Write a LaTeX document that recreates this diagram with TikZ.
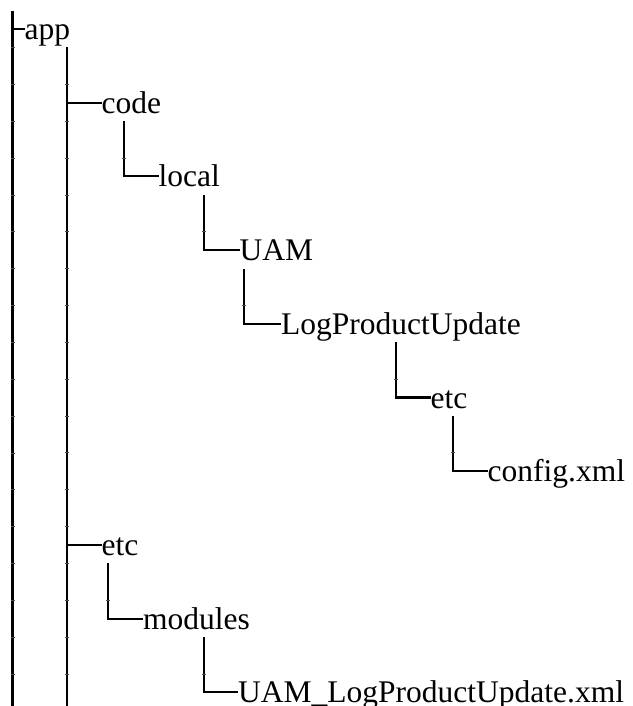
\documentclass[tikz,border=0pt]{standalone}
\usepackage{fontspec}
\setmainfont{Liberation Serif}
\begin{document}
\begin{tikzpicture}[x=1pt,y=-1pt,
  lbl/.style={anchor=west,inner sep=0pt,text height=26pt,text depth=5pt,font=\fontsize{31.5}{36}\selectfont},
  tree/.style={line width=2.1pt,black},
  tk/.style={line width=0.6pt,black!70}]
\useasboundingbox (0,0) rectangle (632,706);
% rows: y = 29 + 73.7 i
\node[lbl] (app)     at (24.5,29)    {app};
\node[lbl] (code)    at (101.5,102.7) {code};
\node[lbl] (local)   at (158.5,176.4) {local};
\node[lbl] (uam)     at (239.5,250.1) {UAM};
\node[lbl] (lpu)     at (281,323.8) {LogProductUpdate};
\node[lbl] (etca)    at (430.5,397.5) {etc};
\node[lbl] (config)  at (487.5,471.2) {config.xml};
\node[lbl] (etcb)    at (101.5,544.9) {etc};
\node[lbl] (modules) at (143,618.6)  {modules};
\node[lbl] (uamx)    at (238,692.3)  {UAM\_LogProductUpdate.xml};
% trunk lines
\coordinate (t1top) at (12.5,10.6);
\coordinate (t1bot) at (12.5,706);
\coordinate (t2top) at (66.7,47.4);
\coordinate (t2bot) at (66.7,706);
\draw[tree] (t1top) -- (t1bot);
\draw[tree] (t1top |- app.west) -- (app.west);
\draw[tree] (t2top) -- (t2bot);
\draw[tree] (t2top |- code.west) -- (code.west);
\draw[tree] (t2top |- etcb.west) -- (etcb.west);
% elbow connectors
\coordinate (c3) at (124,121.1);
\coordinate (c4) at (204,194.8);
\coordinate (c5) at (244,268.5);
\coordinate (c6) at (396,342.2);
\coordinate (c7) at (453,415.9);
\coordinate (c8) at (108,563.3);
\coordinate (c9) at (204,637.0);
\draw[tree] (c3) |- (local.west);
\draw[tree] (c4) |- (uam.west);
\draw[tree] (c5) |- (lpu.west);
\draw[tree] (c6) |- (etca.west);
\draw[tree] (c7) |- (config.west);
\draw[tree] (c8) |- (modules.west);
\draw[tree] (c9) |- (uamx.west);
% joins of the line-drawing glyphs
\foreach \k in {1,...,18} {
  \draw[tk] ({10.5},{10.6+36.85*\k}) -- ({14.5},{10.6+36.85*\k});
}
\foreach \k in {1,...,17} {
  \draw[tk] ({64.7},{47.4+36.85*\k}) -- ({68.7},{47.4+36.85*\k});
}
\foreach \p in {c3,c4,c5,c6,c7,c8,c9} {
  \draw[tk] ([xshift=-2pt,yshift=-36.85pt]\p) -- ([xshift=2pt,yshift=-36.85pt]\p);
}
\end{tikzpicture}
\end{document}
